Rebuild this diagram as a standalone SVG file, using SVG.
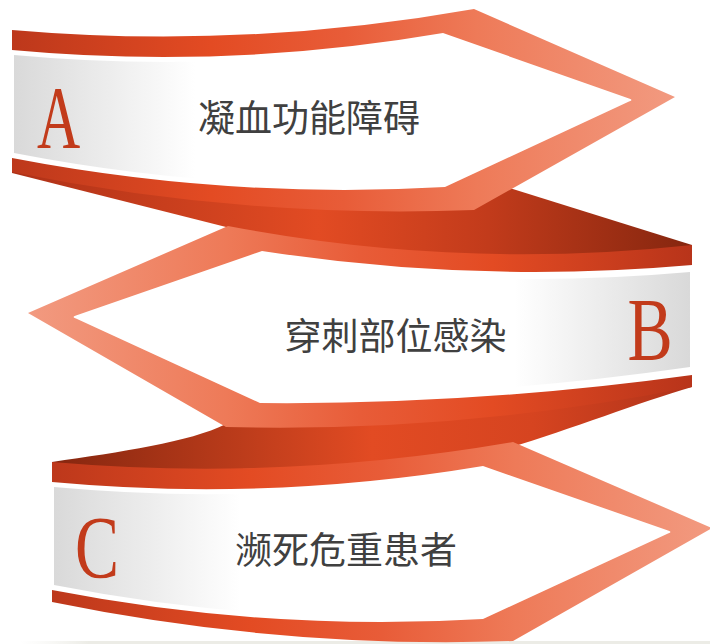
<svg xmlns="http://www.w3.org/2000/svg" width="710" height="644" viewBox="0 0 710 644">
  <defs>
    <linearGradient id="gA" gradientUnits="userSpaceOnUse" x1="12" y1="0" x2="675" y2="0">
      <stop offset="0" stop-color="#bd381b"/>
      <stop offset="0.3" stop-color="#e34b23"/>
      <stop offset="0.5" stop-color="#e85c38"/>
      <stop offset="0.7" stop-color="#ee7a58"/>
      <stop offset="1" stop-color="#f29a80"/>
    </linearGradient>
    <linearGradient id="gB" gradientUnits="userSpaceOnUse" x1="692" y1="0" x2="28" y2="0">
      <stop offset="0" stop-color="#b8341a"/>
      <stop offset="0.3" stop-color="#e34b23"/>
      <stop offset="0.5" stop-color="#e85c38"/>
      <stop offset="0.7" stop-color="#ee7a58"/>
      <stop offset="1" stop-color="#f29a80"/>
    </linearGradient>
    <linearGradient id="gC" gradientUnits="userSpaceOnUse" x1="52" y1="0" x2="712" y2="0">
      <stop offset="0" stop-color="#bd381b"/>
      <stop offset="0.3" stop-color="#e34b23"/>
      <stop offset="0.5" stop-color="#e85c38"/>
      <stop offset="0.7" stop-color="#ee7a58"/>
      <stop offset="1" stop-color="#f29a80"/>
    </linearGradient>
    <linearGradient id="fAB" gradientUnits="userSpaceOnUse" x1="12" y1="0" x2="692" y2="0">
      <stop offset="0" stop-color="#ae3117"/>
      <stop offset="0.45" stop-color="#e24b23"/>
      <stop offset="0.7" stop-color="#c23b1b"/>
      <stop offset="1" stop-color="#85260f"/>
    </linearGradient>
    <linearGradient id="fBC" gradientUnits="userSpaceOnUse" x1="52" y1="0" x2="692" y2="0">
      <stop offset="0" stop-color="#85260f"/>
      <stop offset="0.5" stop-color="#e24b23"/>
      <stop offset="0.75" stop-color="#d64420"/>
      <stop offset="1" stop-color="#b0331a"/>
    </linearGradient>
    <linearGradient id="pA" gradientUnits="userSpaceOnUse" x1="14" y1="0" x2="195" y2="0">
      <stop offset="0" stop-color="#d9d9d9"/>
      <stop offset="1" stop-color="#ffffff"/>
    </linearGradient>
    <linearGradient id="pB" gradientUnits="userSpaceOnUse" x1="690" y1="0" x2="515" y2="0">
      <stop offset="0" stop-color="#d9d9d9"/>
      <stop offset="1" stop-color="#ffffff"/>
    </linearGradient>
    <linearGradient id="pC" gradientUnits="userSpaceOnUse" x1="54" y1="0" x2="240" y2="0">
      <stop offset="0" stop-color="#d9d9d9"/>
      <stop offset="1" stop-color="#ffffff"/>
    </linearGradient>
    <linearGradient id="gnd" gradientUnits="userSpaceOnUse" x1="20" y1="0" x2="710" y2="0">
      <stop offset="0" stop-color="#f2f2ee" stop-opacity="0"/>
      <stop offset="0.1" stop-color="#ececE6"/>
      <stop offset="1" stop-color="#ececE6"/>
    </linearGradient>
  </defs>
  <style>
    .inner { fill: #ffffff; }
    .label { font-family: "Noto Sans CJK SC", "Noto Sans", sans-serif; font-size: 37px; fill: #404040; text-anchor: middle; }
    .letter { font-family: "Liberation Serif", "DejaVu Serif", serif; font-size: 88px; fill: #c23b1b; text-anchor: middle; }
  </style>

  <rect x="20" y="641" width="690" height="3" fill="url(#gnd)"/>

  <g id="connectors">
    <path id="fold-ab" fill="url(#fAB)" d="M12,168 L500,185 L692,245 L692,256 Q460,278 230,228 L12,173 Z"/>
    <path id="fold-bc" fill="url(#fBC)" d="M52,462 C120,452 190,442 226,424 Q460,400 692,378 L692,387 C620,408 520,450 440,466 L52,472 Z"/>
  </g>

  <g id="band-a">
    <path fill="url(#gA)" d="M12,30 Q243,50 474,9 L675,97 L474,210 Q243,219 12,172 Z"/>
    <path class="inner" d="M12,50 Q228,70 443,33 L629,98.5 Q634,100 629,101.5 L445,187 Q228,199.5 12,158 Z"/>
    <path fill="url(#pA)" d="M14,55 Q228,75 443,38 L443,182 Q228,194.5 14,153 Z"/>
    <text class="letter" transform="translate(58.5,147) scale(0.68,1)">A</text>
    <text class="label" x="309" y="132">凝血功能障碍</text>
  </g>

  <g id="band-b">
    <path fill="url(#gB)" d="M692,245 Q460,270.5 228,226 L28,313 L226,427 Q459,433 692,387 Z"/>
    <path class="inner" d="M692,265 Q477,284 262,251 L76,315.5 Q71,317 76,318.5 L260,403 Q476,405 692,375 Z"/>
    <path fill="url(#pB)" d="M690,272 Q477,291 262,258 L262,396 Q476,398 690,367 Z"/>
    <text class="letter" transform="translate(650,359) scale(0.77,1)">B</text>
    <text class="label" x="395.5" y="350">穿刺部位感染</text>
  </g>

  <g id="band-c">
    <path fill="url(#gC)" d="M52,462 Q282,482 513,442 L712,528 L513,641 Q282,649 52,602 Z"/>
    <path class="inner" d="M52,482 Q268,502 483,466 L668,530.5 Q673,532 668,533.5 L483,619 Q268,632 52,590 Z"/>
    <path fill="url(#pC)" d="M54,487 Q268,507 483,471 L483,614 Q268,627 54,585 Z"/>
    <text class="letter" transform="translate(97,577) scale(0.75,1)">C</text>
    <text class="label" x="346" y="564">濒死危重患者</text>
  </g>
</svg>
